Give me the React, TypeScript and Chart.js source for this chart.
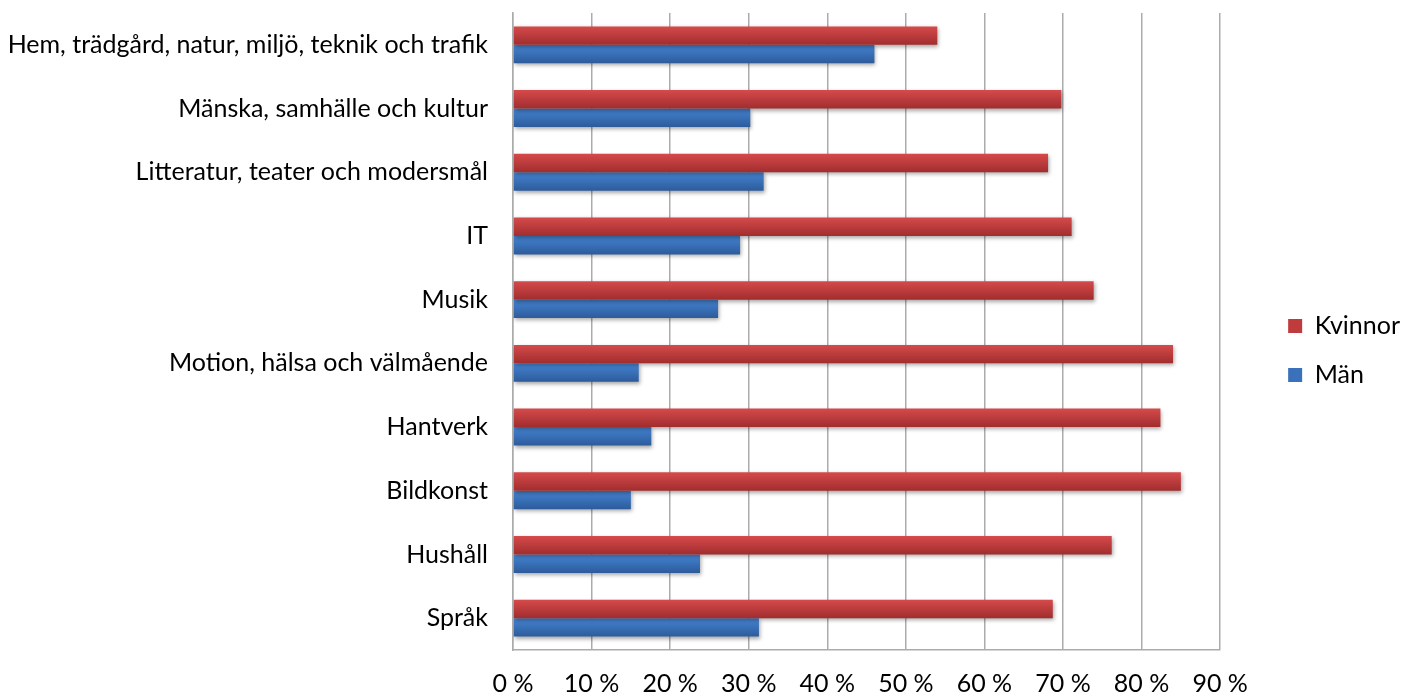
import React, { useEffect, useRef } from "react";
import { Chart, registerables } from "chart.js";

Chart.register(...registerables);

const categories = [
  "Hem, trädgård, natur, miljö, teknik och trafik",
  "Mänska, samhälle och kultur",
  "Litteratur, teater och modersmål",
  "IT",
  "Musik",
  "Motion, hälsa och välmående",
  "Hantverk",
  "Bildkonst",
  "Hushåll",
  "Språk",
];
const kvinnor = [54, 69.8, 68.1, 71.1, 73.9, 84, 82.4, 85, 76.2, 68.7];
const man = [46, 30.2, 31.9, 28.9, 26.1, 16, 17.6, 15, 23.8, 31.3];
const xTickValues = [0, 10, 20, 30, 40, 50, 60, 70, 80, 90];
const seriesNames = ["Kvinnor", "Män"];

const FONT_FAMILY = "Lato, 'Open Sans', sans-serif";
const FONT_SIZE = 25;

const gradients: Record<string, [string, string]> = {
  Kvinnor: ["#d64a4b", "#a12d2e"],
  Män: ["#4484d2", "#2d5b9b"],
};

const barStylePlugin = {
  id: "barStyle",
  beforeDatasetsDraw(chart: any) {
    const ctx = chart.ctx;
    chart.data.datasets.forEach((ds: any, i: number) => {
      const meta = chart.getDatasetMeta(i);
      const g = gradients[ds.label];
      if (!g) return;
      meta.data.forEach((el: any) => {
        const { y, height } = el.getProps(["y", "height"], true);
        const grad = ctx.createLinearGradient(0, y - height / 2, 0, y + height / 2);
        grad.addColorStop(0, g[0]);
        grad.addColorStop(1, g[1]);
        el.options = Object.assign({}, el.options, { backgroundColor: grad });
      });
    });
    ctx.save();
    ctx.shadowColor = "rgba(0,0,0,0.35)";
    ctx.shadowBlur = 4;
    ctx.shadowOffsetX = 1;
    ctx.shadowOffsetY = 2;
  },
  afterDatasetsDraw(chart: any) {
    chart.ctx.restore();
  },
};

export default function App() {
  const ref = useRef<HTMLCanvasElement | null>(null);

  useEffect(() => {
    document.body.style.margin = "0";
    const canvas = ref.current;
    if (!canvas) return;

    const m = document.createElement("canvas").getContext("2d")!;
    m.font = `${FONT_SIZE}px ${FONT_FAMILY}`;
    const tw = Math.max(...seriesNames.map((s) => m.measureText(s).width));
    const boxW = 14;
    const legendPad = 24;
    const itemStart = 1289;
    const padRight = Math.max(0, 1410 - itemStart - (boxW + FONT_SIZE / 2 + tw + 10));
    const spacer = itemStart - legendPad - 1221;

    const font = { family: FONT_FAMILY, size: FONT_SIZE };
    const chart = new Chart(canvas, {
      type: "bar",
      data: {
        labels: categories,
        datasets: [
          {
            label: seriesNames[0],
            data: kvinnor,
            backgroundColor: "#c03b3c",
            xAxisID: "x",
            yAxisID: "y",
          },
          {
            label: seriesNames[1],
            data: man,
            backgroundColor: "#3a71ba",
            xAxisID: "x",
            yAxisID: "y",
          },
        ],
      },
      options: {
        indexAxis: "y",
        animation: false,
        responsive: false,
        events: [],
        categoryPercentage: 0.58,
        barPercentage: 1,
        layout: { padding: { top: 6, right: padRight, bottom: 0, left: 0 } },
        scales: {
          x: {
            type: "linear",
            position: "bottom",
            min: 0,
            max: 90,
            afterBuildTicks: (s: any) => {
              s.ticks = xTickValues.map((v) => ({ value: v }));
            },
            afterFit: (s: any) => {
              s.height = 45;
            },
            grid: { color: "#ababab", lineWidth: 1.5, drawTicks: false },
            border: { display: true, color: "#ababab", width: 1.5 },
            ticks: {
              color: "#000",
              font,
              padding: 19,
              maxRotation: 0,
              autoSkip: false,
              callback: (v: any) => `${v} %`,
            },
          },
          y: {
            type: "category",
            position: "left",
            afterFit: (s: any) => {
              s.width = 513;
              s.paddingTop = 0;
              s.paddingBottom = 0;
            },
            grid: { display: false, drawTicks: false },
            border: { display: true, color: "#ababab", width: 1.5 },
            ticks: { color: "#000", font, padding: 25, autoSkip: false },
          },
          xTop: {
            type: "linear",
            axis: "x",
            position: "top",
            grid: { display: false, drawTicks: false },
            border: { display: false },
            ticks: { display: false },
            afterFit: (s: any) => {
              s.height = 7;
            },
          },
          yRight: {
            type: "linear",
            axis: "y",
            position: "right",
            grid: { display: false, drawTicks: false },
            border: { display: false },
            ticks: { display: false },
            afterFit: (s: any) => {
              s.width = spacer;
              s.paddingTop = 0;
              s.paddingBottom = 0;
            },
          },
        } as any,
        plugins: {
          legend: {
            display: true,
            position: "right",
            align: "center",
            labels: {
              color: "#000",
              font,
              boxWidth: boxW,
              boxHeight: boxW,
              padding: legendPad,
            },
          },
          tooltip: { enabled: false },
          title: { display: false },
        },
      },
      plugins: [barStylePlugin],
    });
    return () => chart.destroy();
  }, []);

  return (
    <div style={{ width: 1410, height: 695, background: "#fff" }}>
      <canvas ref={ref} width={1410} height={695} style={{ display: "block" }} />
    </div>
  );
}
